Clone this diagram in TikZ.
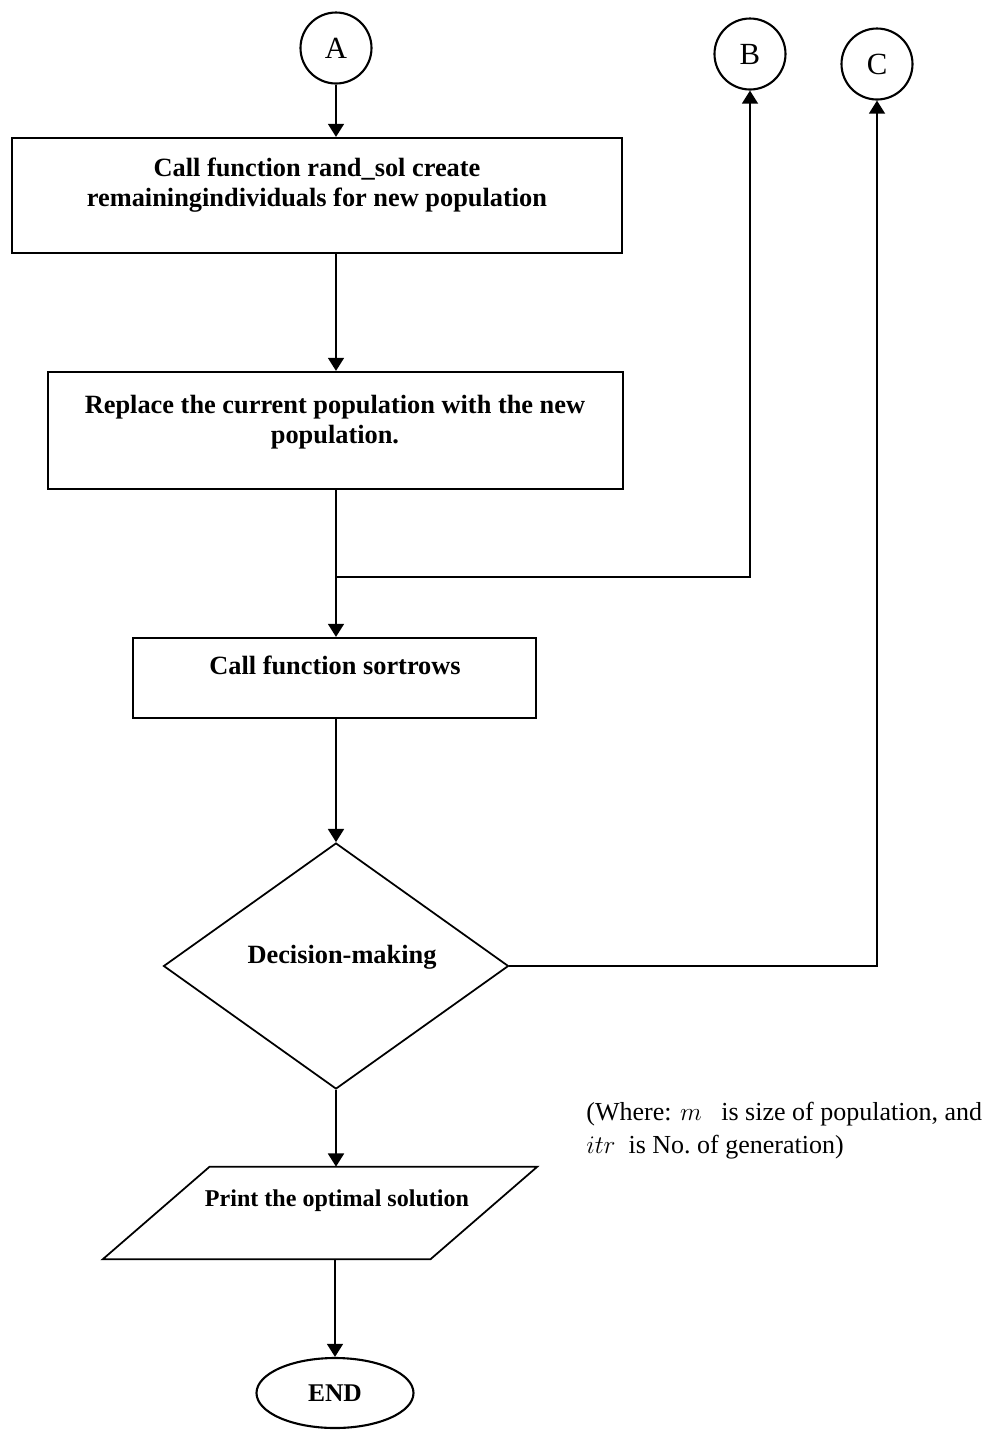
\documentclass[tikz,border=0pt]{standalone}
\usepackage{fontspec}
\setmainfont{Liberation Serif}
\usepackage{tikz}
\usetikzlibrary{shapes.geometric}
\usetikzlibrary{arrows.meta}

\begin{document}
\begin{tikzpicture}[x=0.2mm, y=-0.2mm,
  proc/.style={draw, line width=1.2pt, rectangle, inner sep=0pt},
  conn/.style={line width=1.4pt, -{Triangle[width=9pt,length=7.5pt]}},
  wire/.style={line width=1.4pt},
  tag/.style={draw, line width=1.2pt, circle, inner sep=0pt, minimum size=14.2mm, font=\fontsize{17.5}{20}\selectfont},
  boxtxt/.style={align=center, inner sep=0pt, font=\fontsize{15}{17}\selectfont\bfseries}]

\useasboundingbox (0,0) rectangle (1000,1430);
\coordinate (col) at (336,0);

%A
\node[tag] (A) at (336,48) {A};
%B
\node[tag] (B) at (750,54) {B};
%C
\node[tag] (C) at (877,64) {C};

%Box1
\node[proc, minimum width=122mm, minimum height=23mm] (box1) at (317,195.5) {};
\node[boxtxt] (box1txt) at (317,185) {Call function rand\_sol create\\remainingindividuals for new population};

%Box2
\node[proc, minimum width=115mm, minimum height=23.4mm] (box2) at (335.5,430.5) {};
\node[boxtxt] (box2txt) at (335,422) {Replace the current population with the new\\population.};

%Box3
\node[proc, minimum width=80.6mm, minimum height=16mm] (box3) at (334.5,678) {};
\node[boxtxt] (box3txt) at (335,665) {Call function sortrows};

%Decision
\node[draw, diamond, line width=1pt, inner sep=0pt, minimum width=69mm, minimum height=49.2mm] (dec) at (336,966) {};
\node[boxtxt] (dectxt) at (342,957) {Decision-making};

%Print
\node[inner sep=0pt, minimum width=65.4mm, minimum height=18.4mm] (prn) at (320,1213) {};
\draw[line width=1pt] ([xshift=10.7mm]prn.north west) -- ([xshift=10.7mm]prn.north east)
  -- ([xshift=-10.7mm]prn.south east) -- ([xshift=-10.7mm]prn.south west) -- cycle;
\node[boxtxt, font=\fontsize{13.7}{15}\selectfont\bfseries] (prntxt) at (337,1201) {Print the optimal solution};

%END
\node[draw, ellipse, line width=1.2pt, inner sep=0pt, minimum width=31.4mm, minimum height=14mm, font=\fontsize{14.5}{16}\selectfont\bfseries] (end) at (335,1393) {END};

%Note
\node[anchor=north west, align=left, inner sep=0pt, font=\fontsize{14.8}{18.8}\selectfont] (note) at (586,1102) {(Where: $m$\ \ \ is size of population, and\\$itr$\ \ is No.\ of generation)};

%Arrows
\coordinate (jn) at (336,577);
\draw[conn] (A) -- (A |- box1.north);
\draw[conn] (box1.south -| col) -- (box2.north -| col);
\draw[wire] (box2.south -| col) -- (jn);
\draw[conn] (jn) -- (box3.north -| col);
\draw[conn] (jn) -| (B);
\draw[conn] (box3.south -| col) -- (dec.north);
\draw[conn] (dec.east) -| (C);
\draw[conn] (dec.south) -- (prn.north -| col);
\draw[conn] (prn.south -| end) -- (end.north);

\end{tikzpicture}
\end{document}
